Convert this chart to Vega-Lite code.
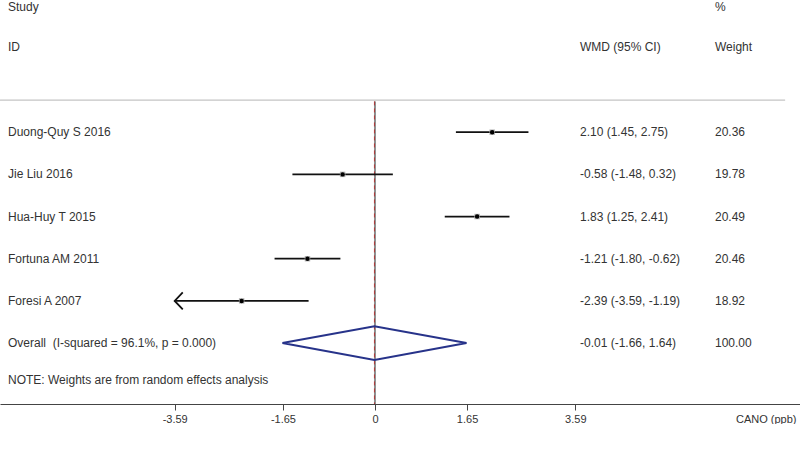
{
  "$schema": "https://vega.github.io/schema/vega-lite/v6.json",
  "width": 800,
  "height": 404,
  "padding": {"left": 0, "top": 0, "right": 0, "bottom": 20},
  "autosize": {"type": "none"},
  "background": "white",
  "config": {
    "view": {"stroke": null},
    "font": "Liberation Sans",
    "axisY": {"disable": true},
    "text": {"font": "Liberation Sans", "fontSize": 12, "color": "#333333"}
  },
  "datasets": {
    "studies": [
      {"study": "Duong-Quy S 2016", "row": 1, "wmd": 2.10, "lo": 1.45, "hi": 2.75, "label": "2.10 (1.45, 2.75)", "weight": "20.36"},
      {"study": "Jie Liu 2016", "row": 2, "wmd": -0.58, "lo": -1.48, "hi": 0.32, "label": "-0.58 (-1.48, 0.32)", "weight": "19.78"},
      {"study": "Hua-Huy T 2015", "row": 3, "wmd": 1.83, "lo": 1.25, "hi": 2.41, "label": "1.83 (1.25, 2.41)", "weight": "20.49"},
      {"study": "Fortuna AM 2011", "row": 4, "wmd": -1.21, "lo": -1.80, "hi": -0.62, "label": "-1.21 (-1.80, -0.62)", "weight": "20.46"},
      {"study": "Foresi A 2007", "row": 5, "wmd": -2.39, "lo": -3.59, "hi": -1.19, "label": "-2.39 (-3.59, -1.19)", "weight": "18.92"},
      {"study": "Overall\u00a0 (I-squared = 96.1%, p = 0.000)", "row": 6, "wmd": -0.01, "lo": -1.66, "hi": 1.64, "label": "-0.01 (-1.66, 1.64)", "weight": "100.00"}
    ],
    "diamond": [
      {"ord": 0, "x": -1.66, "y": 6},
      {"ord": 1, "x": -0.01, "y": 5.6},
      {"ord": 2, "x": 1.64, "y": 6},
      {"ord": 3, "x": -0.01, "y": 6.4},
      {"ord": 4, "x": -1.66, "y": 6}
    ],
    "headers": [
      {"text": "Study", "col": "id", "row": -1.98},
      {"text": "ID", "col": "id", "row": -1.01},
      {"text": "WMD (95% CI)", "col": "wmd", "row": -1.01},
      {"text": "%", "col": "weight", "row": -1.98},
      {"text": "Weight", "col": "weight", "row": -1.01},
      {"text": "NOTE: Weights are from random effects analysis", "col": "id", "row": 6.88}
    ]
  },
  "layer": [
    {
      "data": {"values": [{}]},
      "mark": {"type": "rule", "color": "#c4c4c4", "strokeWidth": 1.2},
      "encoding": {
        "x": {
          "datum": -6.72, "type": "quantitative",
          "scale": {"domain": [-6.7204, 7.6165], "nice": false, "zero": false},
          "axis": {
            "values": [-3.59, -1.65, 0, 1.65, 3.59],
            "labelExpr": "'' + datum.value",
            "grid": false,
            "tickSize": 6,
            "tickColor": "#444444",
            "domainColor": "#444444",
            "domainWidth": 1.2,
            "labelColor": "#333333",
            "labelFont": "Liberation Sans",
            "labelFontSize": 11,
            "labelPadding": 3,
            "labelFlush": false,
            "title": "CANO (ppb)",
            "titleFont": "Liberation Sans",
            "titleFontSize": 11,
            "titleFontWeight": "normal",
            "titleColor": "#333333",
            "titleAnchor": "end",
            "titleAlign": "right",
            "titleAngle": 0,
            "titleX": 796,
            "titleY": 9,
            "titleBaseline": "top"
          }
        },
        "x2": {"datum": 7.35},
        "y": {"datum": 0.24, "type": "quantitative", "scale": {"domain": [-2.135, 7.445], "reverse": true, "nice": false, "zero": false}}
      }
    },
    {
      "data": {"values": [{}]},
      "mark": {"type": "rule", "color": "#222222", "strokeWidth": 1},
      "encoding": {
        "x": {"datum": 0, "type": "quantitative"},
        "y": {"datum": 0.27, "type": "quantitative"},
        "y2": {"datum": 7.445}
      }
    },
    {
      "data": {"name": "studies"},
      "transform": [{"filter": "datum.row == 6"}],
      "mark": {"type": "rule", "color": "#b03a3a", "strokeWidth": 1, "strokeDash": [4, 3]},
      "encoding": {
        "x": {"field": "wmd", "type": "quantitative"},
        "y": {"datum": 0.27, "type": "quantitative"},
        "y2": {"datum": 7.445}
      }
    },
    {
      "data": {"name": "studies"},
      "transform": [{"filter": "datum.row <= 5"}],
      "mark": {"type": "rule", "color": "#111111", "strokeWidth": 1.8},
      "encoding": {
        "x": {"field": "lo", "type": "quantitative"},
        "x2": {"field": "hi"},
        "y": {"field": "row", "type": "quantitative"}
      }
    },
    {
      "data": {"name": "diamond"},
      "mark": {"type": "line", "color": "#27338a", "strokeWidth": 2},
      "encoding": {
        "x": {"field": "x", "type": "quantitative"},
        "y": {"field": "y", "type": "quantitative"},
        "order": {"field": "ord"}
      }
    },
    {
      "data": {"name": "studies"},
      "transform": [{"filter": "datum.row <= 5"}],
      "mark": {"type": "point", "shape": "square", "filled": true, "color": "#b4b4b4", "size": 30, "opacity": 1},
      "encoding": {
        "x": {"field": "wmd", "type": "quantitative"},
        "y": {"field": "row", "type": "quantitative"}
      }
    },
    {
      "data": {"name": "studies"},
      "transform": [{"filter": "datum.row <= 5"}],
      "mark": {"type": "point", "shape": "circle", "filled": true, "color": "#000000", "size": 20, "opacity": 1},
      "encoding": {
        "x": {"field": "wmd", "type": "quantitative"},
        "y": {"field": "row", "type": "quantitative"}
      }
    },
    {
      "data": {"name": "studies"},
      "transform": [{"filter": "datum.lo <= -3.59"}],
      "mark": {"type": "point", "shape": "M 0.95 -1 L 0 0 L 0.95 1", "filled": false, "color": "#111111", "strokeWidth": 1.8, "size": 290, "opacity": 1},
      "encoding": {
        "x": {"field": "lo", "type": "quantitative"},
        "y": {"field": "row", "type": "quantitative"}
      }
    },
    {
      "data": {"name": "studies"},
      "mark": {"type": "text", "align": "left", "baseline": "middle"},
      "encoding": {
        "x": {"datum": -6.577, "type": "quantitative"},
        "y": {"field": "row", "type": "quantitative"},
        "text": {"field": "study"}
      }
    },
    {
      "data": {"name": "studies"},
      "mark": {"type": "text", "align": "left", "baseline": "middle"},
      "encoding": {
        "x": {"datum": 3.674, "type": "quantitative"},
        "y": {"field": "row", "type": "quantitative"},
        "text": {"field": "label"}
      }
    },
    {
      "data": {"name": "studies"},
      "mark": {"type": "text", "align": "left", "baseline": "middle"},
      "encoding": {
        "x": {"datum": 6.093, "type": "quantitative"},
        "y": {"field": "row", "type": "quantitative"},
        "text": {"field": "weight"}
      }
    },
    {
      "data": {"name": "headers"},
      "transform": [{"filter": "datum.col == 'id'"}],
      "mark": {"type": "text", "align": "left", "baseline": "middle"},
      "encoding": {
        "x": {"datum": -6.577, "type": "quantitative"},
        "y": {"field": "row", "type": "quantitative"},
        "text": {"field": "text"}
      }
    },
    {
      "data": {"name": "headers"},
      "transform": [{"filter": "datum.col == 'wmd'"}],
      "mark": {"type": "text", "align": "left", "baseline": "middle"},
      "encoding": {
        "x": {"datum": 3.674, "type": "quantitative"},
        "y": {"field": "row", "type": "quantitative"},
        "text": {"field": "text"}
      }
    },
    {
      "data": {"name": "headers"},
      "transform": [{"filter": "datum.col == 'weight'"}],
      "mark": {"type": "text", "align": "left", "baseline": "middle"},
      "encoding": {
        "x": {"datum": 6.093, "type": "quantitative"},
        "y": {"field": "row", "type": "quantitative"},
        "text": {"field": "text"}
      }
    }
  ]
}
